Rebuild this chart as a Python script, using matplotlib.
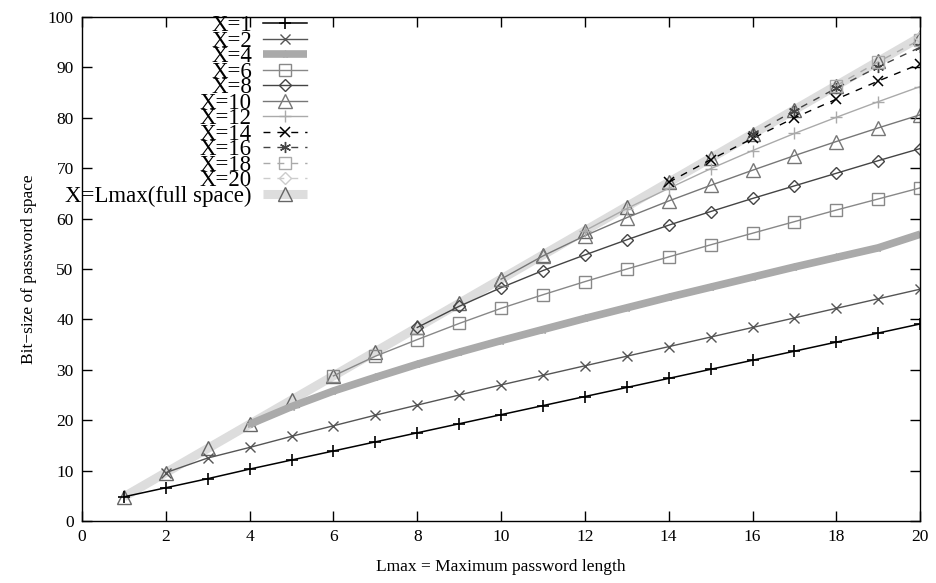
import matplotlib
matplotlib.use("Agg")
import matplotlib.pyplot as plt
import numpy as np

plt.rcParams['font.family'] = ['Liberation Serif', 'DejaVu Serif']

# Data (Lmax, bit-size) for each X
L_all = list(range(1, 21))
full_space = [4.8, 9.6, 14.4, 19.2, 24.0, 28.8, 33.6, 38.4, 43.2, 48.0,
              52.8, 57.6, 62.4, 67.2, 72.0, 76.8, 81.6, 86.4, 91.2, 96.0]

x1_L = list(range(1, 21))
x1 = [4.8, 6.6, 8.4, 10.3, 12.1, 13.9, 15.7, 17.5, 19.3, 21.1,
      22.9, 24.7, 26.5, 28.3, 30.1, 31.9, 33.7, 35.5, 37.3, 39.1]
x2_L = list(range(2, 21))
x2 = [9.6, 12.5, 14.6, 16.8, 18.9, 21.0, 23.0, 25.0, 27.0, 28.9,
      30.8, 32.7, 34.6, 36.5, 38.4, 40.3, 42.2, 44.1, 46.0]
x4_L = list(range(4, 21))
x4 = [19.2, 22.7, 25.8, 28.5, 31.1, 33.5, 35.8, 38.0, 40.2, 42.3,
      44.4, 46.4, 48.4, 50.4, 52.3, 54.2, 56.9]
x6_L = list(range(6, 21))
x6 = [28.8, 32.7, 36.0, 39.2, 42.2, 44.9, 47.5, 50.0, 52.4, 54.8,
      57.1, 59.4, 61.7, 63.9, 66.1]
x8_L = list(range(8, 21))
x8 = [38.4, 42.6, 46.3, 49.7, 52.8, 55.8, 58.7, 61.4, 64.0, 66.5,
      69.0, 71.5, 73.9]
x10_L = list(range(10, 21))
x10 = [48.0, 52.6, 56.6, 60.2, 63.5, 66.6, 69.6, 72.5, 75.3, 78.0, 80.6]
x12_L = list(range(12, 21))
x12 = [57.6, 62.0, 66.0, 69.9, 73.5, 76.9, 80.1, 83.2, 86.2]
x14_L = list(range(14, 21))
x14 = [67.2, 71.7, 75.9, 80.0, 83.7, 87.3, 90.7]
x16_L = list(range(16, 21))
x16 = [76.8, 81.4, 85.9, 90.1, 94.0]
x18_L = list(range(18, 21))
x18 = [86.4, 91.1, 95.5]
x20_L = [20]
x20 = [96.0]

labels = ['X=1', 'X=2', 'X=4', 'X=6', 'X=8', 'X=10', 'X=12', 'X=14',
          'X=16', 'X=18', 'X=20', 'X=Lmax(full space)']

fig = plt.figure(figsize=(9.37, 5.83), dpi=100)
ax = fig.add_axes([0.0875, 0.1063, 0.8945, 0.8645])

handles = []
# full space band (drawn beneath)
h_full, = ax.plot(L_all, full_space, color='#dddddd', lw=6.5, marker='^',
                  ms=10, mfc='none', mec='#666666', mew=1.0, zorder=1,
                  solid_capstyle='butt')

specs = [
    (x1_L, x1, dict(color='#000000', lw=1.1, marker='+', ms=9, mew=1.2)),
    (x2_L, x2, dict(color='#555555', lw=1.0, marker='x', ms=7, mew=1.0)),
    (x4_L, x4, dict(color='#aaaaaa', lw=5.5, marker='*', ms=6, mew=0.8,
                    solid_capstyle='butt')),
    (x6_L, x6, dict(color='#888888', lw=1.0, marker='s', ms=8, mfc='none', mew=1.0)),
    (x8_L, x8, dict(color='#444444', lw=1.0, marker='D', ms=6, mfc='none', mew=1.0)),
    (x10_L, x10, dict(color='#777777', lw=1.0, marker='^', ms=10, mfc='none', mew=1.0)),
    (x12_L, x12, dict(color='#aaaaaa', lw=1.0, marker='+', ms=9, mew=1.0)),
    (x14_L, x14, dict(color='#000000', lw=1.0, ls=(0, (5, 5)), marker='x', ms=7, mew=1.1)),
    (x16_L, x16, dict(color='#444444', lw=1.0, ls=(0, (5, 5)), marker=(6, 2, 0), ms=8, mew=1.0)),
    (x18_L, x18, dict(color='#aaaaaa', lw=1.0, ls=(0, (5, 5)), marker='s', ms=8, mfc='none', mew=1.0)),
    (x20_L, x20, dict(color='#cccccc', lw=1.0, ls=(0, (5, 5)), marker='D', ms=6, mfc='none', mew=1.0)),
]
for xs, ys, kw in specs:
    h, = ax.plot(xs, ys, zorder=2, **kw)
    handles.append(h)
handles.append(h_full)

ax.set_xlim(0, 20)
ax.set_ylim(0, 100)
ax.set_xticks(np.arange(0, 21, 2))
ax.set_yticks(np.arange(0, 101, 10))
ax.tick_params(direction='in', length=7, width=1, top=True, right=True,
               labelsize=12.5, pad=6)
for s in ax.spines.values():
    s.set_linewidth(1.0)

ax.set_xlabel('Lmax = Maximum password length', fontsize=12.5, labelpad=10)
ax.set_ylabel('Bit\u2212size of password space', fontsize=12.5, labelpad=8)

leg = ax.legend(handles, labels, loc='upper right',
                bbox_to_anchor=(307 / 937, 1 - 15 / 583),
                bbox_transform=fig.transFigure,
                markerfirst=False, frameon=False, fontsize=16.5,
                labelspacing=-0.24, handlelength=1.9, handletextpad=0.5,
                borderpad=0.0, borderaxespad=0.0, numpoints=1)
leg._legend_box.align = 'right'
for t in leg.get_texts():
    t.set_ha('right')

fig.savefig('out.png', dpi=100)
